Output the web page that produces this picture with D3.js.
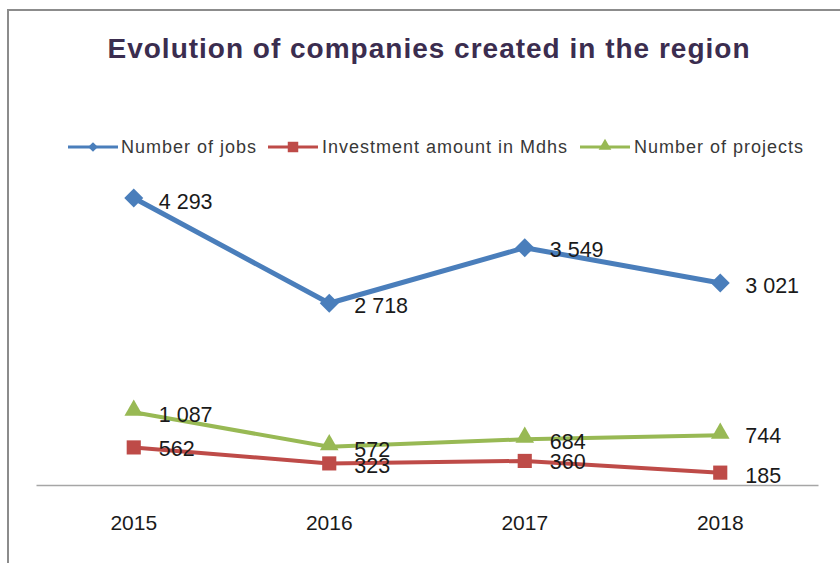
<!DOCTYPE html>
<html><head><meta charset="utf-8">
<script src="https://cdn.jsdelivr.net/npm/d3@7"></script>
<style>
html,body{margin:0;padding:0;background:#fff;}
svg{display:block;}
</style></head>
<body>
<svg id="chart" width="840" height="563"></svg>
<script>
const years = ["2015", "2016", "2017", "2018"];
const jobs = [4293, 2718, 3549, 3021];
const investment = [562, 323, 360, 185];
const projects = [1087, 572, 684, 744];
const seriesNames = ["Number of jobs", "Investment amount in Mdhs", "Number of projects"];
const labelsJobs = ["4 293", "2 718", "3 549", "3 021"];
const labelsInvestment = ["562", "323", "360", "185"];
const labelsProjects = ["1 087", "572", "684", "744"];
const title = "Evolution of companies created in the region";

const series = [
  {name: seriesNames[0], values: jobs, labels: labelsJobs, color: "#4a7ebb", marker: "diamond", width: 5, dy: [3, 2, 1, 2]},
  {name: seriesNames[1], values: investment, labels: labelsInvestment, color: "#be4b48", marker: "square", width: 4, dy: [1, 2, 0, 2]},
  {name: seriesNames[2], values: projects, labels: labelsProjects, color: "#98b954", marker: "triangle", width: 4, dy: [2, 2, 2, 0]}
];

const svg = d3.select("#chart");

// frame
svg.append("line").attr("x1", 7).attr("x2", 840).attr("y1", 10).attr("y2", 10).attr("stroke", "#8c8c8c").attr("stroke-width", 2);
svg.append("line").attr("x1", 8).attr("x2", 8).attr("y1", 9).attr("y2", 563).attr("stroke", "#8c8c8c").attr("stroke-width", 2);

// title
svg.append("text").attr("x", 429).attr("y", 58).attr("text-anchor", "middle")
  .attr("font-family", "Liberation Sans, Arial, sans-serif").attr("font-size", 28).attr("font-weight", "bold")
  .attr("letter-spacing", 1).attr("fill", "#3b2d4f").text(title);

const x = d3.scaleBand().domain(years).range([36, 818]);
const y = d3.scaleLinear().domain([0, 5000]).range([485, 150.7]);
const cx = d => x(d) + x.bandwidth() / 2;

// x axis
const axis = svg.append("g").attr("transform", "translate(0,485)")
  .call(d3.axisBottom(x).tickSize(0).tickPadding(30));
axis.select(".domain").attr("stroke", "#a6a6a6").attr("stroke-width", 1.5);
axis.selectAll("text").attr("font-family", "Liberation Sans, Arial, sans-serif").attr("font-size", 21).attr("fill", "#1a1a1a");

const symbolFor = (m, s) => {
  if (m === "diamond") return d3.symbol().type(d3.symbolDiamond2).size(s)();
  if (m === "square") return d3.symbol().type(d3.symbolSquare).size(s)();
  return d3.symbol().type(d3.symbolTriangle).size(s)();
};
const markerSize = {diamond: 230, square: 200, triangle: 150};

const line = d3.line().x((d, i) => cx(years[i])).y(d => y(d));

series.forEach(s => {
  const g = svg.append("g");
  g.append("path").datum(s.values).attr("d", line).attr("fill", "none")
    .attr("stroke", s.color).attr("stroke-width", s.width).attr("stroke-linejoin", "round");
  g.selectAll("path.m").data(s.values).enter().append("path").attr("class", "m")
    .attr("transform", (d, i) => `translate(${cx(years[i])},${y(d) + (s.marker === "triangle" ? -2 : 0)})`)
    .attr("d", symbolFor(s.marker, markerSize[s.marker])).attr("fill", s.color);
});
series.forEach(s => {
  svg.append("g").selectAll("text").data(s.values).enter().append("text")
    .attr("x", (d, i) => cx(years[i]) + 25)
    .attr("y", (d, i) => y(d) + s.dy[i] + 8)
    .attr("font-family", "Liberation Sans, Arial, sans-serif").attr("font-size", 21.5).attr("fill", "#1a1a1a")
    .text((d, i) => s.labels[i]);
});

// legend
const legendItems = [
  {x: 68, tx: 121},
  {x: 268, tx: 322},
  {x: 580, tx: 634}
];
const lg = svg.append("g").attr("transform", "translate(0,147)");
series.forEach((s, i) => {
  const it = legendItems[i];
  lg.append("line").attr("x1", it.x).attr("x2", it.x + 50).attr("y1", 0).attr("y2", 0)
    .attr("stroke", s.color).attr("stroke-width", 3);
  lg.append("path").attr("transform", `translate(${it.x + 25},${s.marker === "triangle" ? -1 : 0})`)
    .attr("d", symbolFor(s.marker, s.marker === "diamond" ? 60 : (s.marker === "square" ? 110 : 70))).attr("fill", s.color);
  lg.append("text").attr("x", it.tx).attr("y", 6).attr("font-family", "Liberation Sans, Arial, sans-serif")
    .attr("font-size", 18).attr("letter-spacing", 1.0).attr("fill", "#383838").text(s.name);
});
</script>
</body></html>
